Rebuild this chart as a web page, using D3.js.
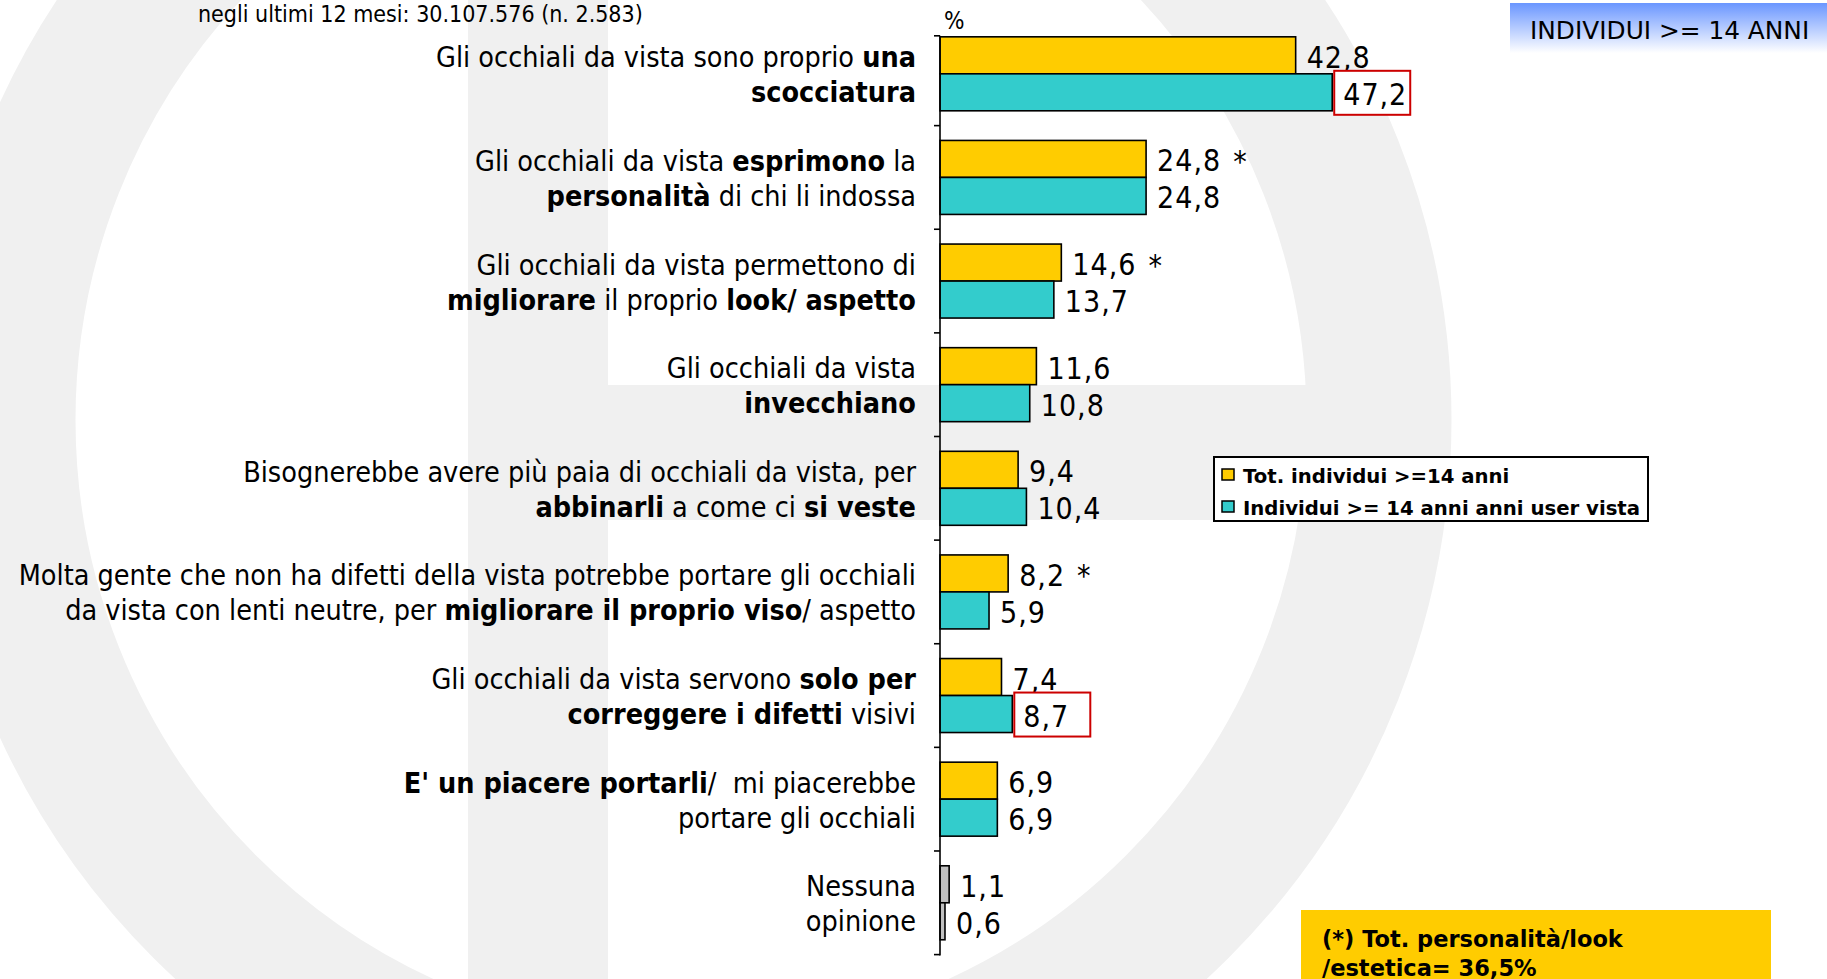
<!DOCTYPE html>
<html>
<head>
<meta charset="utf-8">
<script src="https://cdn.jsdelivr.net/npm/d3@7/dist/d3.min.js"></script>
<style>
  html, body { margin: 0; padding: 0; background: #fff; }
  svg { display: block; }
  .lbl { font-family: 'DejaVu Sans Condensed', 'DejaVu Sans', sans-serif; fill: #000; }
  .wide { font-family: 'DejaVu Sans', sans-serif; fill: #000; }
</style>
</head>
<body>
<svg id="chart" width="1827" height="979"></svg>
<script>
// ---------------- DATA ----------------
const categories = [
  [[["Gli occhiali da vista sono proprio ", 0], ["una", 1]], [["scocciatura", 1]]],
  [[["Gli occhiali da vista ", 0], ["esprimono", 1], [" la", 0]], [["personalità", 1], [" di chi li indossa", 0]]],
  [[["Gli occhiali da vista permettono di", 0]], [["migliorare", 1], [" il proprio ", 0], ["look/ aspetto", 1]]],
  [[["Gli occhiali da vista", 0]], [["invecchiano", 1]]],
  [[["Bisognerebbe avere più paia di occhiali da vista, per", 0]], [["abbinarli", 1], [" a come ci ", 0], ["si veste", 1]]],
  [[["Molta gente che non ha difetti della vista potrebbe portare gli occhiali", 0]], [["da vista con lenti neutre, per ", 0], ["migliorare il proprio viso", 1], ["/ aspetto", 0]]],
  [[["Gli occhiali da vista servono ", 0], ["solo per", 1]], [["correggere i difetti", 1], [" visivi", 0]]],
  [[["E' un piacere portarli", 1], ["/\u00a0 mi piacerebbe", 0]], [["portare gli occhiali", 0]]],
  [[["Nessuna", 0]], [["opinione", 0]]]
];
const totValues  = [42.8, 24.8, 14.6, 11.6, 9.4, 8.2, 7.4, 6.9, 1.1];
const userValues = [47.2, 24.8, 13.7, 10.8, 10.4, 5.9, 8.7, 6.9, 0.6];
const seriesNames = ["Tot. individui >=14 anni", "Individui >= 14 anni anni user vista"];
const starredTot = [false, true, true, false, false, true, false, false, false];
const boxedUser  = [true, false, false, false, false, false, true, false, false];
const subtitle = "negli ultimi 12 mesi: 30.107.576 (n. 2.583)";
const badgeText = "INDIVIDUI >= 14 ANNI";
const noteLines = ["(*) Tot. personalità/look", "/estetica= 36,5%"];
const unitLabel = "%";

// ---------------- SETUP ----------------
const svg = d3.select("#chart");
const W = 1827, H = 979;
const colors = ["#FFCC00", "#33CCCC"];
const neutralColor = "#C0C0C0";
const locale = d3.formatLocale({decimal: ",", thousands: ".", grouping: [3], currency: ["", "€"]});
const fmt = locale.format(".1f");

// background watermark (faint logo)
const wm = "#f0f0f0";
const bg = svg.append("g");
bg.append("rect").attr("width", W).attr("height", H).attr("fill", "#fff");
bg.append("circle").attr("cx", 691).attr("cy", 420).attr("r", 688)
  .attr("fill", "none").attr("stroke", wm).attr("stroke-width", 145);
bg.append("rect").attr("x", 468).attr("y", 0).attr("width", 140).attr("height", H).attr("fill", wm);
bg.append("rect").attr("x", 608).attr("y", 385).attr("width", 705).attr("height", 135).attr("fill", wm);

const idx = d3.range(categories.length);
const y = d3.scaleBand().domain(idx).range([22, 954.6]).paddingInner(0.286).paddingOuter(0.143);
const ySub = d3.scaleBand().domain([0, 1]).range([0, y.bandwidth()]);
const x = d3.scaleLinear().domain([0, 50]).range([940, 940 + 415.5]);

// bars
const series = [totValues, userValues];
series.forEach((vals, s) => {
  svg.append("g").selectAll("rect").data(idx).join("rect")
    .attr("x", x(0))
    .attr("y", i => y(i) + ySub(s))
    .attr("width", i => x(vals[i]) - x(0))
    .attr("height", ySub.bandwidth())
    .attr("fill", i => i === categories.length - 1 ? neutralColor : colors[s])
    .attr("stroke", "#000").attr("stroke-width", 1.6);
});

// axis
const ax = svg.append("g").attr("stroke", "#000").attr("stroke-width", 1.6);
const axTop = y(0) - 1, axBottom = y.range()[1] + 1;
ax.append("line").attr("x1", x(0)).attr("x2", x(0)).attr("y1", axTop).attr("y2", axBottom);
const tickYs = [axTop].concat(idx.map(i => y(i) - y.step() * y.paddingInner() / 2 + y.step()));
tickYs.forEach(t => ax.append("line").attr("x1", x(0) - 6).attr("x2", x(0)).attr("y1", t).attr("y2", t));

svg.append("text").attr("class", "lbl").attr("x", x(0) + 4).attr("y", 29)
  .attr("font-size", 24).text(unitLabel);

// value labels
series.forEach((vals, s) => {
  const g = svg.append("g");
  idx.forEach(i => {
    const cy = y(i) + ySub(s) + ySub.bandwidth() / 2;
    const bx = x(vals[i]);
    if (s === 1 && boxedUser[i]) {
      g.append("rect").attr("x", bx + 2).attr("y", y(i) + ySub(s) - 3)
        .attr("width", 76).attr("height", ySub.bandwidth() + 7)
        .attr("fill", "#fff").attr("stroke", "#CC0000").attr("stroke-width", 2);
    }
    const t = g.append("text").attr("class", "lbl")
      .attr("x", bx + 11).attr("y", cy + 2)
      .attr("dominant-baseline", "central")
      .attr("font-size", 30).attr("letter-spacing", 1)
      .text(fmt(vals[i]));
    if (s === 0 && starredTot[i]) {
      t.append("tspan").attr("dx", 12).text("*");
    }
  });
});

// category labels
const lineGap = 35;
categories.forEach((lines, i) => {
  const cy = y(i) + y.bandwidth() / 2;
  lines.forEach((segs, k) => {
    const t = svg.append("text").attr("class", "lbl")
      .attr("x", 916).attr("y", cy + (k - 0.5) * lineGap + 1)
      .attr("text-anchor", "end").attr("dominant-baseline", "central")
      .attr("font-size", 28.5);
    segs.forEach(([txt, b]) => t.append("tspan").attr("font-weight", b ? "bold" : "normal").text(txt));
  });
});

// legend
const lg = svg.append("g");
lg.append("rect").attr("x", 1214).attr("y", 457).attr("width", 434).attr("height", 64)
  .attr("fill", "#fff").attr("stroke", "#000").attr("stroke-width", 2);
seriesNames.forEach((name, s) => {
  const cy = 475 + s * 32;
  lg.append("rect").attr("x", 1222).attr("y", cy - 6).attr("width", 12).attr("height", 11)
    .attr("fill", colors[s]).attr("stroke", "#000").attr("stroke-width", 1.5);
  lg.append("text").attr("class", "wide").attr("x", 1243).attr("y", cy + 1)
    .attr("dominant-baseline", "central").attr("font-size", 19.7).attr("font-weight", "bold")
    .text(name);
});

// subtitle
svg.append("text").attr("class", "lbl").attr("x", 198).attr("y", 14)
  .attr("dominant-baseline", "central").attr("font-size", 23).attr("fill", "#111")
  .text(subtitle);

// badge top-right
const defs = svg.append("defs");
const grad = defs.append("linearGradient").attr("id", "bgrad").attr("x1", 0).attr("x2", 0).attr("y1", 0).attr("y2", 1);
grad.append("stop").attr("offset", "0%").attr("stop-color", "#6A96FF");
grad.append("stop").attr("offset", "100%").attr("stop-color", "#FFFFFF");
svg.append("rect").attr("x", 1510).attr("y", 3).attr("width", 317).attr("height", 50).attr("fill", "url(#bgrad)");
svg.append("text").attr("class", "wide").attr("x", 1530).attr("y", 30)
  .attr("dominant-baseline", "central").attr("font-size", 24.8).attr("fill", "#111")
  .text(badgeText);

// footnote box
svg.append("rect").attr("x", 1301).attr("y", 910).attr("width", 470).attr("height", 69).attr("fill", "#FFCC00");
noteLines.forEach((ln, k) => {
  svg.append("text").attr("class", "wide").attr("x", 1322).attr("y", 947 + k * 29)
    .attr("font-size", 22.5).attr("font-weight", "bold").text(ln);
});
</script>
</body>
</html>
